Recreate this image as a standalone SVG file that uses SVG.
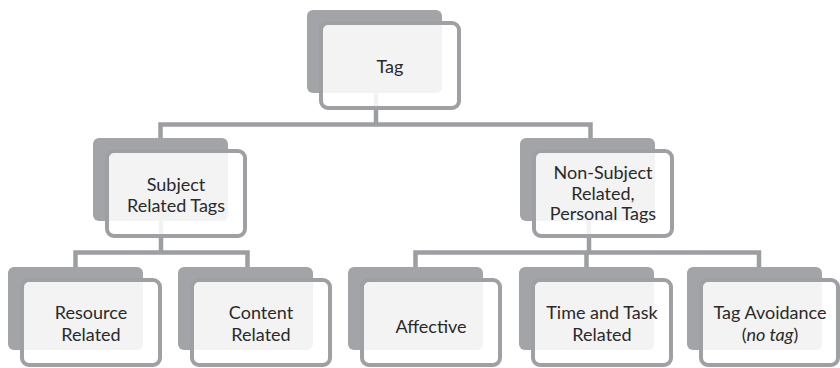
<svg xmlns="http://www.w3.org/2000/svg" width="840" height="368" viewBox="0 0 840 368">
  <style>
    .link { fill: none; stroke: #9d9ea1; stroke-width: 4.5; }
    .back { fill: #a3a4a7; }
    .frame { fill: #ffffff; fill-opacity: 0.87; stroke: #9fa0a3; stroke-width: 4; }
    .label { font-family: Lato, "Open Sans", sans-serif; font-size: 18px; fill: #2a2a2a; text-anchor: middle; }
  </style>

  <!-- elbow connectors, drawn beneath the nodes -->
  <g id="connectors">
    <path class="link" d="M160.5 138 V124.5 H590.5 V138 M376 93 V124.5"/>
    <path class="link" d="M75.5 267 V252.5 H247.5 V267 M161 221 V252.5"/>
    <path class="link" d="M415.5 267 V252.5 H759 V267 M586.5 252.5 V267 M589 221 V252.5"/>
  </g>

  <g id="node-tag">
    <rect class="back" x="307" y="10" width="135" height="83" rx="6"/>
    <rect class="frame" x="321" y="23" width="138" height="85" rx="7"/>
    <text class="label" x="390" y="73">Tag</text>
  </g>

  <g id="node-subject">
    <rect class="back" x="93" y="138" width="135" height="83" rx="6"/>
    <rect class="frame" x="107" y="151" width="138" height="85" rx="7"/>
    <text class="label" x="176" y="190.5">Subject</text>
    <text class="label" x="176" y="212">Related Tags</text>
  </g>

  <g id="node-non-subject">
    <rect class="back" x="520" y="138" width="135" height="83" rx="6"/>
    <rect class="frame" x="534" y="151" width="138" height="85" rx="7"/>
    <text class="label" x="603" y="179">Non-Subject</text>
    <text class="label" x="603" y="199.5">Related,</text>
    <text class="label" x="603" y="220">Personal Tags</text>
  </g>

  <g id="node-resource">
    <rect class="back" x="8" y="267" width="135" height="83" rx="6"/>
    <rect class="frame" x="22" y="280" width="138" height="85" rx="7"/>
    <text class="label" x="91" y="319">Resource</text>
    <text class="label" x="91" y="340.5">Related</text>
  </g>

  <g id="node-content">
    <rect class="back" x="178" y="267" width="135" height="83" rx="6"/>
    <rect class="frame" x="192" y="280" width="138" height="85" rx="7"/>
    <text class="label" x="261" y="319">Content</text>
    <text class="label" x="261" y="340.5">Related</text>
  </g>

  <g id="node-affective">
    <rect class="back" x="348" y="267" width="135" height="83" rx="6"/>
    <rect class="frame" x="362" y="280" width="138" height="85" rx="7"/>
    <text class="label" x="431" y="333">Affective</text>
  </g>

  <g id="node-time-task">
    <rect class="back" x="519" y="267" width="135" height="83" rx="6"/>
    <rect class="frame" x="533" y="280" width="138" height="85" rx="7"/>
    <text class="label" x="602" y="319">Time and Task</text>
    <text class="label" x="602" y="340.5">Related</text>
  </g>

  <g id="node-avoidance">
    <rect class="back" x="687" y="267" width="135" height="83" rx="6"/>
    <rect class="frame" x="701" y="280" width="137" height="85" rx="7"/>
    <text class="label" x="770" y="319">Tag Avoidance</text>
    <text class="label" x="770" y="340.5">(<tspan font-style="italic">no tag</tspan>)</text>
  </g>
</svg>
